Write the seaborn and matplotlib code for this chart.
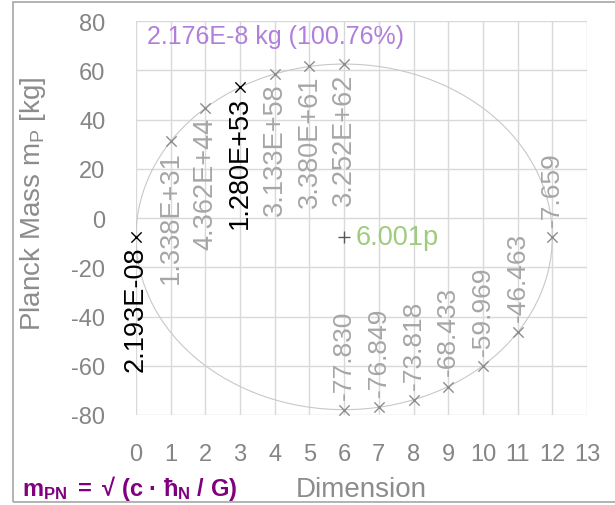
import numpy as np
import pandas as pd
import matplotlib
matplotlib.use("Agg")
import matplotlib.pyplot as plt
from matplotlib.patches import Ellipse, Rectangle
import seaborn as sns

# upper half: dimension -> Planck mass [kg], plotted as log10
dims_top = [0, 1, 2, 3, 4, 5, 6]
mass_top = [2.193e-08, 1.338e+31, 4.362e+44, 1.280e+53, 3.133e+58, 3.380e+61, 3.252e+62]
black_dims = [0, 3]

# lower half: plotted values
dims_bottom = [6, 7, 8, 9, 10, 11, 12]
vals_bottom = [-77.830, -76.849, -73.818, -68.433, -59.969, -46.463, -7.659]

# centre point
center_x = 6
center_y = -7.659
center_label = "6.001p"

title_text = "2.176E-8 kg (100.76%)"
formula_text = r"$\mathbf{m_{PN}}$ $\mathbf{=\ √\ (c\ ·\ ħ_N\ /\ G)}$"

x_ticks = list(range(0, 14))
y_ticks = [-80, -60, -40, -20, 0, 20, 40, 60, 80]

sns.set_theme(style="whitegrid")
plt.rcParams['font.family'] = ['Liberation Sans', 'DejaVu Sans']
plt.rcParams['axes.unicode_minus'] = False
plt.rcParams['mathtext.fontset'] = 'custom'
plt.rcParams['mathtext.rm'] = 'Liberation Sans'
plt.rcParams['mathtext.bf'] = 'Liberation Sans:bold'
plt.rcParams['mathtext.it'] = 'Liberation Sans:italic'

grid_c = '#D9D9D9'
tick_c = '#858585'
lab_c = '#A6A6A6'

df_top = pd.DataFrame({"dim": dims_top, "mass": mass_top})
df_top["logm"] = np.log10(df_top["mass"])
df_top["label"] = df_top["mass"].map(lambda v: f"{v:.3E}")
df_top["black"] = df_top["dim"].isin(black_dims)
df_bot = pd.DataFrame({"dim": dims_bottom, "val": vals_bottom})

fig = plt.figure(figsize=(6.15, 5.06), dpi=100)
ax = fig.add_axes([136/615, 1-416/506, 451/615, 394/506])
ax.set_facecolor('white')

# ellipse through the points
a = center_x - min(dims_top)
b = df_top["logm"].max() - center_y
ax.add_patch(Ellipse((center_x, center_y), 2*a, 2*b, fill=False,
                     edgecolor='#C8C8C8', lw=0.8, zorder=2))

gray_pts = pd.concat([
    df_top[~df_top["black"]][["dim", "logm"]].rename(columns={"logm": "y"}),
    df_bot.rename(columns={"val": "y"})])
sns.scatterplot(data=gray_pts, x="dim", y="y", marker='x', color='#8C8C8C',
                s=55, linewidth=1.0, ax=ax, zorder=3, clip_on=False)
sns.scatterplot(data=df_top[df_top["black"]], x="dim", y="logm", marker='x',
                color='black', s=55, linewidth=1.0, ax=ax, zorder=3, clip_on=False)
sns.scatterplot(x=[center_x], y=[center_y], marker='+', color='#595959',
                s=70, linewidth=1.0, ax=ax, zorder=3)

for _, r in df_top.iterrows():
    ax.annotate(r["label"], (r["dim"], r["logm"]), xytext=(0, -6),
                textcoords='offset points', rotation=90, ha='center', va='top',
                fontsize=19.5, color='black' if r["black"] else lab_c)
for _, r in df_bot.iterrows():
    ax.annotate(f"{r['val']:.3f}", (r["dim"], r["val"]), xytext=(0, 8),
                textcoords='offset points', rotation=90, ha='center', va='bottom',
                fontsize=19, color=lab_c)
ax.annotate(center_label, (center_x, center_y), xytext=(8, 0),
            textcoords='offset points', ha='left', va='center',
            fontsize=19.5, color='#9DCC7C')

ax.text(0.024, 0.962, title_text, transform=ax.transAxes, ha='left',
        va='center', fontsize=18, color='#B07FDB')

ax.set_xlim(0, 13)
ax.set_ylim(-80, 80)
ax.set_xticks(x_ticks)
ax.set_yticks(y_ticks)
ax.grid(True, color=grid_c, lw=1.0)
for s in ax.spines.values():
    s.set_visible(False)
ax.tick_params(axis='both', length=6, color=grid_c, width=1.0,
               labelsize=17, labelcolor=tick_c, direction='out')
ax.tick_params(axis='y', pad=16)
ax.tick_params(axis='x', pad=14)
ax.set_xlabel("Dimension", fontsize=20, color='#8C8C8C', labelpad=8)
ax.set_ylabel(r"Planck Mass m$_\mathregular{P}$ [kg]", fontsize=20,
              color='#8C8C8C')
ax.yaxis.set_label_coords(-0.195, 0.54)

fig.text(22/615, 1-489/506, formula_text, ha='left', va='center',
         fontsize=17, color='#800080')

fig.patches.append(Rectangle((13/615, 3/506), 1.0, 500/506, transform=fig.transFigure,
                             fill=False, edgecolor='#A6A6A6', lw=1.2))

fig.savefig("out.png", dpi=100)
